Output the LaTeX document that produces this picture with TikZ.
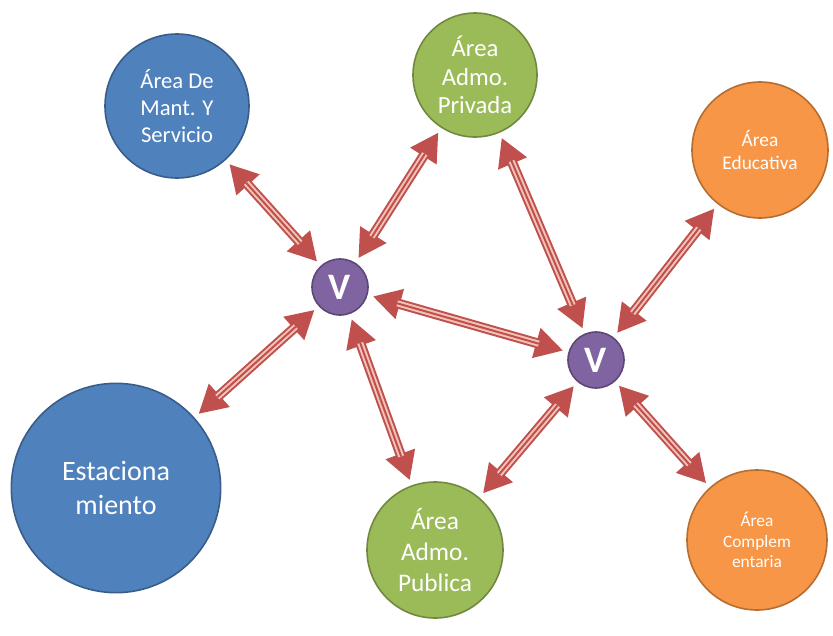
\documentclass[tikz,border=0pt]{standalone}
\usepackage{fontspec}
\setmainfont{Carlito}
\usetikzlibrary{arrows.meta}
\definecolor{blueA}{HTML}{4F81BD}
\definecolor{blueB}{HTML}{385D8A}
\definecolor{greenA}{HTML}{9BBB59}
\definecolor{greenB}{HTML}{71893F}
\definecolor{orangeA}{HTML}{F79646}
\definecolor{orangeB}{HTML}{B66D31}
\definecolor{purpA}{HTML}{8064A2}
\definecolor{purpB}{HTML}{5C4776}
\definecolor{arrred}{HTML}{C0504D}
\definecolor{arrpink}{HTML}{F2C4B8}
\begin{document}
\begin{tikzpicture}[x=0.75pt,y=-0.75pt,
area/.style={circle,line width=1.2pt,align=center,text=white,inner sep=0pt},
bluearea/.style={area,draw=blueB,fill=blueA},
greenarea/.style={area,draw=greenB,fill=greenA},
orangearea/.style={area,draw=orangeB,fill=orangeA},
vert/.style={circle,draw=purpB,line width=1.2pt,fill=purpA,text=white,minimum size=42pt,inner sep=0pt,font=\fontsize{28}{28}\selectfont\bfseries},
arr/.style={draw=arrred,line width=7.5pt,{Triangle[length=21pt,width=22pt]}-{Triangle[length=21pt,width=22pt]},shorten >=4pt,shorten <=4pt},
stripe/.style={draw=arrpink,line width=1.5pt,double=arrred,double distance=1.5pt,shorten >=23pt,shorten <=23pt}]
\useasboundingbox (0,0) rectangle (833,636);
% areas
\node[bluearea,minimum size=108pt,font=\fontsize{17}{20.5}\selectfont] (mant) at (177,106) {Área De\\Mant. Y\\Servicio};
\node[greenarea,minimum size=93pt,font=\fontsize{18.5}{21.5}\selectfont] (priv) at (475,75) {Área\\Admo.\\Privada};
\node[orangearea,minimum size=102pt,font=\fontsize{14.5}{17.5}\selectfont] (edu) at (760,150) {Área\\Educativa};
\node[bluearea,minimum size=157pt,font=\fontsize{21}{25}\selectfont] (estac) at (116,488) {Estaciona\\miento};
\node[greenarea,minimum size=102pt,font=\fontsize{19}{23}\selectfont] (pub) at (435,550) {Área\\Admo.\\Publica};
\node[orangearea,minimum size=105pt,font=\fontsize{13}{15.5}\selectfont] (comp) at (757,540) {Área\\Complem\\entaria};
% vestibulos
\node[vert] (v1) at (340,287) {V};
\node[vert] (v2) at (596,360) {V};
% conexiones
\foreach \a/\b in {mant/v1,priv/v1,estac/v1,v1/pub,v1/v2,priv/v2,edu/v2,pub/v2,comp/v2}{
  \draw[arr] (\a) -- (\b);
  \draw[stripe] (\a) -- (\b);
}
\end{tikzpicture}
\end{document}
